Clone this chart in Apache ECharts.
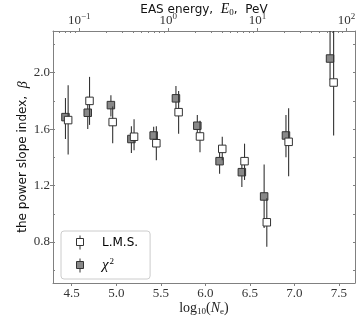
<!DOCTYPE html>
<html><head><meta charset="utf-8">
<script src="https://cdn.jsdelivr.net/npm/echarts@6/dist/echarts.min.js"></script>
<style>html,body{margin:0;padding:0;background:#fff}#c{width:359px;height:319px}</style>
</head><body><div id="c"></div>
<script>
// chi^2 fit (filled squares)
const chiX  = [4.43, 4.68, 4.94, 5.17, 5.42, 5.67, 5.91, 6.16, 6.41, 6.66, 6.905, 7.40];
const chiY  = [1.685, 1.716, 1.77, 1.53, 1.555, 1.818, 1.624, 1.373, 1.295, 1.123, 1.555, 2.10];
const chiLo = [1.53, 1.60, 1.69, 1.43, 1.49, 1.74, 1.55, 1.284, 1.19, 0.90, 1.40, 1.95];
const chiHi = [1.82, 1.83, 1.84, 1.62, 1.617, 1.905, 1.70, 1.45, 1.38, 1.35, 1.70, 2.40];
// L.M.S. fit (open squares)
const lmsX  = [4.46, 4.70, 4.96, 5.20, 5.45, 5.70, 5.94, 6.19, 6.44, 6.69, 6.935, 7.44];
const lmsY  = [1.664, 1.80, 1.65, 1.546, 1.50, 1.72, 1.548, 1.46, 1.373, 0.94, 1.51, 1.93];
const lmsLo = [1.42, 1.63, 1.50, 1.45, 1.38, 1.567, 1.437, 1.38, 1.24, 0.766, 1.267, 1.555];
const lmsHi = [1.91, 1.97, 1.76, 1.67, 1.62, 1.87, 1.66, 1.546, 1.497, 1.11, 1.747, 2.35];
// tick labels
const xTicks = [4.5, 5.0, 5.5, 6.0, 6.5, 7.0, 7.5];
const yTicks = [0.8, 1.2, 1.6, 2.0];
const yMinorTicks = [0.6, 0.8, 1.0, 1.2, 1.4, 1.6, 1.8, 2.0, 2.2];
const topTicks = [-1, 0, 1, 2]; // log10(E0 / PeV)
const energyOffset = 5.585; // log10(Ne) at E0 = 1 PeV

const xMin = 4.29, xMax = 7.68, yMin = 0.51, yMax = 2.295;
const topMin = xMin - energyOffset, topMax = xMax - energyOffset;
const topMinor = [];
for (let d = -2; d <= 2; d++) for (let k = 2; k <= 9; k++) {
  const v = d + Math.log10(k);
  if (v > topMin && v < topMax) topMinor.push(v);
}

const serif = 'Liberation Serif';
const frame = '#808080';
const dark = '#333';

function errData(xs, lo, hi) { return xs.map((x, i) => [x, lo[i], hi[i]]); }
function pts(xs, ys) { return xs.map((x, i) => [x, ys[i]]); }
function errRender(params, api) {
  const p1 = api.coord([api.value(0), api.value(1)]);
  const p2 = api.coord([api.value(0), api.value(2)]);
  return { type: 'line', shape: { x1: p1[0], y1: p1[1], x2: p2[0], y2: p2[1] },
           style: { stroke: dark, lineWidth: 1.1 } };
}
const supMap = { '-1': '−1', '0': '0', '1': '1', '2': '2' };

const chart = echarts.init(document.getElementById('c'), null, { renderer: 'canvas' });
chart.setOption({
  animation: false,
  grid: { left: 53, right: 4, top: 31, bottom: 36, containLabel: false, outerBoundsMode: 'none' },
  legend: {
    orient: 'vertical', left: 61, top: 231,
    padding: [4, 12, 6, 15], itemGap: 7,
    itemWidth: 10, itemHeight: 14,
    backgroundColor: '#fff', borderColor: '#ccc', borderWidth: 1, borderRadius: 3,
    data: [
      { name: 'L.M.S.', icon: 'path://M5,0 L5,3 M1.5,3 L8.5,3 L8.5,10 L1.5,10 Z M5,10 L5,14',
        itemStyle: { color: '#fff', borderColor: dark, borderWidth: 1 } },
      { name: 'chi2', icon: 'path://M5,0 L5,3 M1.5,3 L8.5,3 L8.5,10 L1.5,10 Z M5,10 L5,14',
        itemStyle: { color: '#888', borderColor: dark, borderWidth: 1 } }
    ],
    formatter: n => n === 'chi2' ? '{c|χ}{s|2}' : '{t|' + n + '}',
    textStyle: {
      padding: [0, 0, 0, 12],
      rich: {
        t: { fontFamily: 'DejaVu Sans', fontSize: 12, color: '#000' },
        c: { fontFamily: serif, fontStyle: 'italic', fontSize: 15, color: '#000' },
        s: { fontFamily: serif, fontSize: 9, color: '#000', verticalAlign: 'top', padding: [0, 0, 8, 1] }
      }
    }
  },
  xAxis: [
    { type: 'value', position: 'bottom', min: xMin, max: xMax,
      axisLine: { show: true, onZero: false, lineStyle: { color: frame } },
      axisTick: { show: true, inside: false, length: 3, customValues: xTicks, lineStyle: { color: frame } },
      axisLabel: { customValues: xTicks, formatter: v => v.toFixed(1), fontFamily: serif, fontSize: 13, color: '#333', margin: 4 },
      splitLine: { show: false },
      name: '{t|log}{s|10}{t|(}{i|N}{s|e}{t|)}', nameLocation: 'middle', nameGap: 18, nameMoveOverlap: false,
      nameTextStyle: { rich: {
        t: { fontFamily: serif, fontSize: 14, color: '#222' },
        i: { fontFamily: serif, fontStyle: 'italic', fontSize: 14, color: '#222' },
        s: { fontFamily: serif, fontSize: 9, color: '#222', verticalAlign: 'bottom', padding: [6, 0, 0, 0] } } } },
    { type: 'value', position: 'top', min: topMin, max: topMax,
      axisLine: { show: true, onZero: false, lineStyle: { color: frame } },
      axisTick: { show: true, inside: false, length: 3, customValues: topTicks, lineStyle: { color: frame } },
      axisLabel: { customValues: topTicks, formatter: v => '{b|10}{s|' + supMap[String(Math.round(v))] + '}', margin: 2,
        rich: { b: { fontFamily: serif, fontSize: 13, color: '#333' },
                s: { fontFamily: serif, fontSize: 9, color: '#333', verticalAlign: 'top', padding: [0, 0, 8, 0] } } },
      splitLine: { show: false },
      name: '{t|EAS energy,  }{i|E}{s|0}{t|,  PeV}', nameLocation: 'middle', nameGap: 14, nameMoveOverlap: false,
      nameTextStyle: { rich: {
        t: { fontFamily: 'DejaVu Sans', fontSize: 12, color: '#111' },
        i: { fontFamily: serif, fontStyle: 'italic', fontSize: 14, color: '#111' },
        s: { fontFamily: serif, fontSize: 9, color: '#111', verticalAlign: 'bottom', padding: [6, 0, 0, 0] } } } },
    { type: 'value', position: 'top', min: topMin, max: topMax,
      axisLine: { show: false, onZero: false },
      axisTick: { show: true, inside: true, length: 2, customValues: topMinor, lineStyle: { color: frame } },
      axisLabel: { show: false }, splitLine: { show: false } }
  ],
  yAxis: [
    { type: 'value', position: 'left', min: yMin, max: yMax,
      axisLine: { show: true, onZero: false, lineStyle: { color: frame } },
      axisTick: { show: true, inside: false, length: 3, customValues: yTicks, lineStyle: { color: frame } },
      axisLabel: { customValues: yTicks, formatter: v => v.toFixed(1), fontFamily: serif, fontSize: 13, color: '#333', margin: 3 },
      splitLine: { show: false },
      name: 'the power slope index,  {i|β}', nameLocation: 'middle', nameGap: 23, nameMoveOverlap: false,
      nameTextStyle: { fontFamily: 'DejaVu Sans', fontSize: 12, color: '#111',
        rich: { i: { fontFamily: serif, fontStyle: 'italic', fontSize: 14, color: '#111' } } } },
    { type: 'value', position: 'left', offset: 0, min: yMin, max: yMax,
      axisLine: { show: false, onZero: false },
      axisTick: { show: true, inside: true, length: 2, customValues: yMinorTicks, lineStyle: { color: frame } },
      axisLabel: { show: false }, splitLine: { show: false } },
    { type: 'value', position: 'right', offset: 0, min: yMin, max: yMax,
      axisLine: { show: true, onZero: false, lineStyle: { color: frame } },
      axisTick: { show: true, inside: true, length: 2, customValues: yMinorTicks, lineStyle: { color: frame } },
      axisLabel: { show: false }, splitLine: { show: false } }
  ],
  series: [
    { type: 'custom', name: 'chi2', xAxisIndex: 0, yAxisIndex: 0, clip: true,
      renderItem: errRender, data: errData(chiX, chiLo, chiHi), z: 2 },
    { type: 'scatter', name: 'chi2', xAxisIndex: 0, yAxisIndex: 0, symbol: 'rect', symbolSize: 7.5,
      itemStyle: { color: '#888', borderColor: dark, borderWidth: 1, opacity: 1 },
      data: pts(chiX, chiY), z: 3 },
    { type: 'custom', name: 'L.M.S.', xAxisIndex: 0, yAxisIndex: 0, clip: true,
      renderItem: errRender, data: errData(lmsX, lmsLo, lmsHi), z: 4 },
    { type: 'scatter', name: 'L.M.S.', xAxisIndex: 0, yAxisIndex: 0, symbol: 'rect', symbolSize: 7.5,
      itemStyle: { color: '#fff', borderColor: dark, borderWidth: 1, opacity: 1 },
      data: pts(lmsX, lmsY), z: 5 }
  ]
});
</script></body></html>
